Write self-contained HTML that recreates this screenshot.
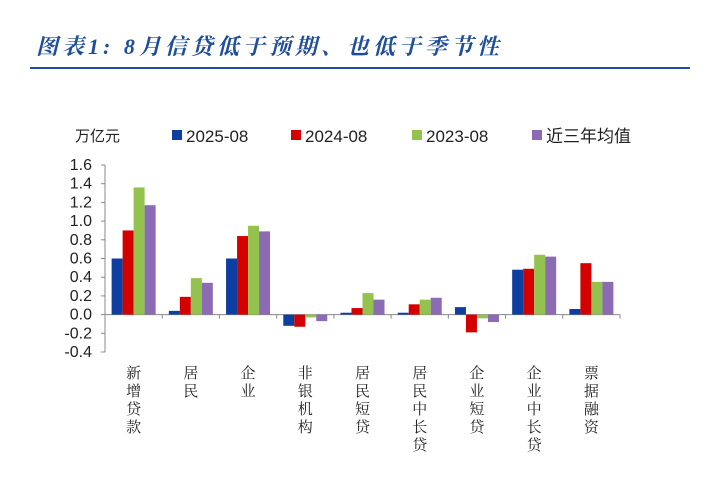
<!DOCTYPE html>
<html><head><meta charset="utf-8"><style>
body{margin:0;width:720px;height:492px;background:#fff;overflow:hidden;font-family:"Liberation Sans","Noto Sans CJK SC",sans-serif}
</style></head><body>
<div style="position:absolute;left:36px;top:30px;font-size:22px;font-weight:bold;font-style:italic;color:#1f4e9c;font-family:'Liberation Serif','Noto Serif CJK SC',serif;letter-spacing:4px;white-space:nowrap">图表1:  8月信贷低于预期、也低于季节性</div>
<div style="position:absolute;left:30px;top:67px;width:660px;height:2px;background:#1f4e9c"></div>
<svg id="c" width="720" height="492" style="position:absolute;left:0;top:0"></svg>
<script>
const categories=["新增贷款","居民","企业","非银机构","居民短贷","居民中长贷","企业短贷","企业中长贷","票据融资"];
const seriesNames=["2025-08","2024-08","2023-08","近三年均值"];
const s2025=[0.6,0.04,0.6,-0.12,0.02,0.02,0.08,0.48,0.06];
const s2024=[0.9,0.19,0.84,-0.13,0.07,0.11,-0.19,0.49,0.55];
const s2023=[1.36,0.39,0.95,-0.03,0.23,0.16,-0.04,0.64,0.35];
const sAvg=[1.17,0.34,0.89,-0.07,0.16,0.18,-0.08,0.62,0.35];
const yTicks=["1.6","1.4","1.2","1.0","0.8","0.6","0.4","0.2","0.0","-0.2","-0.4"];
const colors=["#0d3fa0","#d40000","#93c24f","#8a6bb4"];
const series=[s2025,s2024,s2023,sAvg];
const NS="http://www.w3.org/2000/svg",svg=document.getElementById('c');
const x0=105,x1=620,yTop=165,yBot=352,vMax=1.6,vMin=-0.4;
const y=v=>yTop+(vMax-v)/(vMax-vMin)*(yBot-yTop);
const gw=(x1-x0)/categories.length,bw=11;
function mk(t,a){const e=document.createElementNS(NS,t);for(const k in a)e.setAttribute(k,a[k]);svg.appendChild(e);return e;}
let e=mk('line',{x1:x0,x2:x0,y1:yTop,y2:yBot,stroke:'#888'});


yTicks.forEach(t=>{const v=parseFloat(t),yy=y(v);
 mk('line',{x1:x0-4,x2:x0,y1:yy,y2:yy,stroke:'#888'});
 const tx=mk('text',{x:x0-13,y:yy+5,'text-anchor':'end','font-size':16,fill:'#222'});tx.textContent=t;
 
 });
e=mk('line',{x1:x0,x2:x1,y1:y(0),y2:y(0),stroke:'#888'});


categories.forEach((c,i)=>{
 const gx=x0+i*gw;mk('line',{x1:gx+gw,x2:gx+gw,y1:y(0),y2:y(0)+4,stroke:'#888'});
 const cx=gx+gw/2;
 series.forEach((s,j)=>{const v=s[i];const r=mk('rect',{x:cx-2*bw+j*bw,y:Math.min(y(v),y(0)),width:bw,height:Math.abs(y(v)-y(0)),fill:colors[j]});
  
  });
 [...c].forEach((ch,k)=>{const t=mk('text',{x:cx,y:378+k*18,'text-anchor':'middle','font-size':15,fill:'#222','font-family':'Noto Serif CJK SC,serif'});t.textContent=ch;
  
  });
});
let u=mk('text',{x:75,y:141,'font-size':15,fill:'#222'});u.textContent='万亿元';


const lx=[172,291,412,532];
seriesNames.forEach((n,j)=>{mk('rect',{x:lx[j],y:130,width:10,height:10,fill:colors[j]});
 const t=mk('text',{x:lx[j]+14,y:142,'font-size':17,fill:'#222'});t.textContent=n;
 
 });
</script>
</body></html>
